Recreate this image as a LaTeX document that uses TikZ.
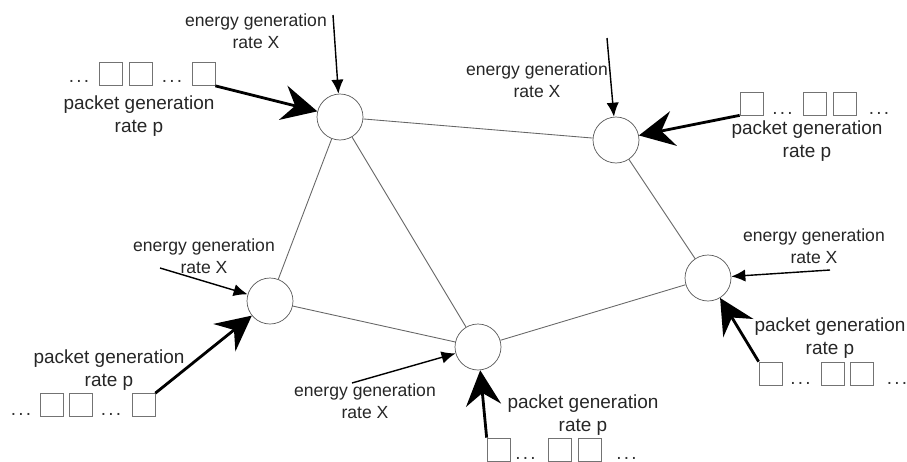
\documentclass[tikz,border=0pt]{standalone}
\usepackage{fontspec}
\setmainfont{Liberation Sans}
\usepackage{tikz}
\usetikzlibrary{arrows.meta}

\newcommand{\pdots}{.\hspace{1.3pt}.\hspace{1.3pt}.}

\begin{document}
\begin{tikzpicture}[x=0.02cm, y=-0.02cm]
    % Define styles for the nodes
    \tikzstyle{sensor} = [
        circle, draw=black!65, minimum size=0.92cm, inner sep=0
    ]
    \tikzstyle{packet} = [
        draw=black!55, minimum size=0.46cm, inner sep=0
    ]
    \tikzstyle{dots} = [
        anchor=base, inner sep=0, text=black!80,
        font=\fontsize{10.8}{13}\selectfont
    ]
    \tikzstyle{energy_label} = [
        align=center, inner sep=0, text=black!85,
        font=\fontsize{10}{12.5}\selectfont
    ]
    \tikzstyle{packet_label} = [
        align=center, inner sep=0, text=black!85,
        font=\fontsize{10.8}{13}\selectfont
    ]
    \tikzstyle{link} = [draw=black!60, line width=0.5pt]
    \tikzstyle{energy_in} = [
        -{Latex[length=8pt, width=7pt]}, line width=0.8pt
    ]
    \tikzstyle{packet_in} = [
        -{Stealth[length=20pt, width=20pt, inset=7pt]}, line width=1.6pt
    ]

    \useasboundingbox (0,0) rectangle (907,461);

    % Sensor nodes
    \node[sensor] (tl) at (340,117) {};
    \node[sensor] (tr) at (616,140) {};
    \node[sensor] (ml) at (270,301) {};
    \node[sensor] (bm) at (478,347) {};
    \node[sensor] (mr) at (708,278) {};

    % Links
    \draw[link] (tl) -- (tr);
    \draw[link] (tl) -- (ml);
    \draw[link] (tl) -- (bm);
    \draw[link] (ml) -- (bm);
    \draw[link] (bm) -- (mr);
    \draw[link] (tr) -- (mr);

    % Energy for top left
    \coordinate (tl_e) at (333,15);
    \node[energy_label] (tl_el) at (256,31) {energy generation\\rate X};
    \draw[energy_in] (tl_e) -- (tl);

    % Packets for top left
    \node[dots] (tl_d1) at (79,82) {\pdots};
    \node[packet] (tl_q1) at (111,74) {};
    \node[packet] (tl_q2) at (141,74) {};
    \node[dots] (tl_d2) at (172,82) {\pdots};
    \node[packet] (tl_q3) at (203.5,74) {};
    \node[packet_label] (tl_pl) at (139,116) {packet generation\\rate p};
    \draw[packet_in] (tl_q3.south east) -- (tl);

    % Energy for top right
    \coordinate (tr_e) at (607,38);
    \node[energy_label] (tr_el) at (537,80) {energy generation\\rate X};
    \draw[energy_in] (tr_e) -- (tr);

    % Packets for top right
    \node[packet] (tr_q1) at (751.5,103.5) {};
    \node[dots] (tr_d1) at (782.5,114) {\pdots};
    \node[packet] (tr_q2) at (815,103.5) {};
    \node[packet] (tr_q3) at (844.5,103.5) {};
    \node[dots] (tr_d2) at (879,114) {\pdots};
    \node[packet_label] (tr_pl) at (807,141) {packet generation\\rate p};
    \draw[packet_in] (tr_q1.south west) -- (tr);

    % Energy for middle left
    \coordinate (ml_e) at (160,268);
    \node[energy_label] (ml_el) at (204,256) {energy generation\\rate X};
    \draw[energy_in] (ml_e) -- (ml);

    % Packets for middle left
    \node[dots] (ml_d1) at (21,415) {\pdots};
    \node[packet] (ml_q1) at (51.5,405) {};
    \node[packet] (ml_q2) at (81,405) {};
    \node[dots] (ml_d2) at (111,415) {\pdots};
    \node[packet] (ml_q3) at (143.5,405) {};
    \node[packet_label] (ml_pl) at (109,370) {packet generation\\rate p};
    \draw[packet_in] (ml_q3.north east) -- (ml);

    % Energy for bottom
    \coordinate (bm_e) at (352,383);
    \node[energy_label] (bm_el) at (365,401) {energy generation\\rate X};
    \draw[energy_in] (bm_e) -- (bm);

    % Packets for bottom
    \node[packet] (bm_q1) at (498.5,449.5) {};
    \node[dots] (bm_d1) at (525.5,459) {\pdots};
    \node[packet] (bm_q2) at (560,449.5) {};
    \node[packet] (bm_q3) at (590,449.5) {};
    \node[dots] (bm_d2) at (626.5,459) {\pdots};
    \node[packet_label] (bm_pl) at (583,415) {packet generation\\rate p};
    \draw[packet_in] (bm_q1.north west) -- (bm);

    % Energy for middle right
    \coordinate (mr_e) at (830,270);
    \node[energy_label] (mr_el) at (814,246) {energy generation\\rate X};
    \draw[energy_in] (mr_e) -- (mr);

    % Packets for middle right
    \node[packet] (mr_q1) at (770.5,373.5) {};
    \node[dots] (mr_d1) at (800.5,384) {\pdots};
    \node[packet] (mr_q2) at (833,373.5) {};
    \node[packet] (mr_q3) at (862,373.5) {};
    \node[dots] (mr_d2) at (897,384) {\pdots};
    \node[packet_label] (mr_pl) at (830,338) {packet generation\\rate p};
    \draw[packet_in] (mr_q1.north west) -- (mr);

\end{tikzpicture}
\end{document}
